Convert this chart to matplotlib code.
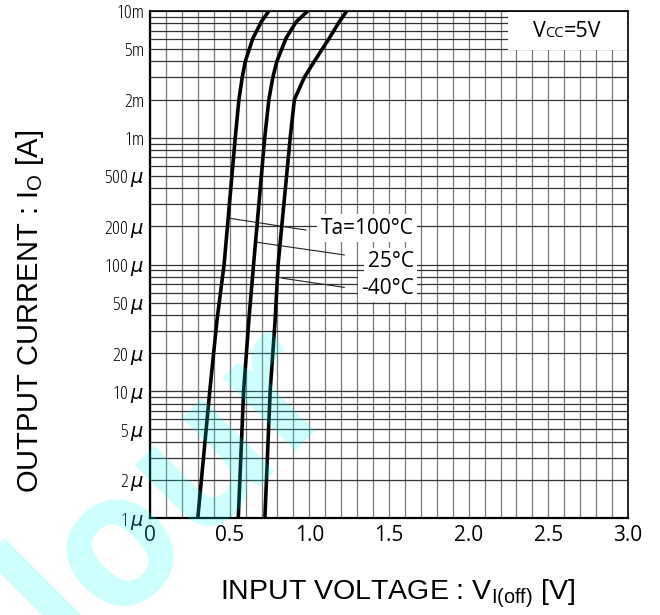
import matplotlib.pyplot as plt
from matplotlib.offsetbox import TextArea, HPacker, AnchoredOffsetbox, DrawingArea

# curves (V in volts, I in amps)
v_100 = [0.30, 0.375, 0.42, 0.465, 0.535, 0.558, 0.579, 0.598, 0.646, 0.698, 0.746]
v_25 = [0.554, 0.5875, 0.62, 0.65, 0.72, 0.746, 0.771, 0.796, 0.854, 0.917, 0.99]
v_m40 = [0.721, 0.754, 0.785, 0.804, 0.88, 0.906, 0.969, 1.031, 1.125, 1.1875, 1.235]
i_pts = [1e-6, 1e-5, 3.6e-5, 1e-4, 1e-3, 2e-3, 3e-3, 4e-3, 6.1e-3, 8.2e-3, 1e-2]

temp_labels = ["Ta=100°C", "25°C", "-40°C"]
label_x = [1.656, 1.656, 1.656]
label_y = [194e-6, 105e-6, 65e-6]
# leader lines: curve point -> label
lead_x = [[0.496, 0.979], [0.667, 1.219], [0.829, 1.219]]
lead_y = [[232e-6, 187e-6], [150e-6, 119e-6], [78e-6, 66e-6]]

x_ticks = [0, 0.5, 1.0, 1.5, 2.0, 2.5, 3.0]
x_ticklabels = ["0", "0.5", "1.0", "1.5", "2.0", "2.5", "3.0"]
y_ticks = [1e-6, 2e-6, 5e-6, 1e-5, 2e-5, 5e-5, 1e-4, 2e-4, 5e-4, 1e-3, 2e-3, 5e-3, 1e-2]
y_ticklabels = ["1$\\,\\mu$", "2$\\,\\mu$", "5$\\,\\mu$", "10$\\,\\mu$", "20$\\,\\mu$",
                "50$\\,\\mu$", "100$\\,\\mu$", "200$\\,\\mu$", "500$\\,\\mu$",
                "1m", "2m", "5m", "10m"]

plt.rcParams["mathtext.fontset"] = "dejavusans"

fig = plt.figure(figsize=(6.6, 6.15), dpi=100)
ax = fig.add_axes([150 / 660, 1 - 518 / 615, 478 / 660, 507 / 615])

ax.set_yscale("log")
ax.set_xlim(0, 3.0)
ax.set_ylim(1e-6, 1e-2)

minor_x = [k / 10 for k in range(1, 30)]
minor_y = [m * 10.0 ** e for e in range(-6, -2) for m in range(1, 10)]
ax.set_xticks(minor_x, minor=True)
ax.set_yticks(minor_y, minor=True)
ax.set_xticks(x_ticks)
ax.set_xticklabels(x_ticklabels, fontsize=15, family="Open Sans")
ax.set_yticks(y_ticks)
ax.set_yticklabels(y_ticklabels, fontsize=14, family="Open Sans", stretch="condensed")
ax.tick_params(which="both", length=0)
ax.tick_params(axis="x", pad=5)
ax.tick_params(axis="y", pad=4)
ax.grid(True, which="both", axis="y", color="#333333", lw=0.9)
ax.grid(True, which="both", axis="x", color="#777777", lw=0.9)
ax.set_axisbelow(True)

for side in ["left", "bottom"]:
    ax.spines[side].set_linewidth(1.6)
for side in ["top", "right"]:
    ax.spines[side].set_linewidth(1.2)

for v in [v_100, v_25, v_m40]:
    ax.plot(v, i_pts, color="black", lw=2.6, solid_capstyle="butt", zorder=4)

for lx, ly in zip(lead_x, lead_y):
    ax.plot(lx, ly, color="#222222", lw=0.8, zorder=3)

for t, x, y in zip(temp_labels, label_x, label_y):
    ax.text(x, y, t, ha="right", va="center", fontsize=15, family="Open Sans", zorder=5,
            bbox=dict(facecolor="white", edgecolor="none", pad=2.5))

vcc = HPacker(children=[DrawingArea(12, 1),
                        TextArea("V", textprops=dict(fontsize=15.5, family="Open Sans")),
                        TextArea("CC", textprops=dict(fontsize=10.5, family="Open Sans")),
                        TextArea("=5V", textprops=dict(fontsize=15.5, family="Open Sans")),
                        DrawingArea(12, 1)],
              align="baseline", pad=6, sep=0)
box = AnchoredOffsetbox(loc="upper right", child=vcc, pad=0, borderpad=0.1, frameon=True)
box.patch.set_facecolor("white")
box.patch.set_edgecolor("none")
box.set_zorder(5)
ax.add_artist(box)

fig.text(398 / 660, 1 - 594 / 615, "INPUT VOLTAGE : V$_\\mathregular{I(off)}$ [V]",
         ha="center", va="center", fontsize=20.5, family="Liberation Sans")
fig.text(30 / 660, 1 - 311 / 615, "OUTPUT CURRENT : I$_\\mathregular{O}$ [A]",
         ha="center", va="center", rotation=90, fontsize=21, family="Liberation Sans")

# faint watermark from the source scan
fig.text(72 / 660, 1 - 660 / 615, "lour", rotation=45, rotation_mode="anchor",
         ha="left", va="baseline", fontsize=135, fontweight="bold", family="Open Sans",
         color="cyan", alpha=0.2, zorder=10)

fig.savefig("out.png", dpi=100)
